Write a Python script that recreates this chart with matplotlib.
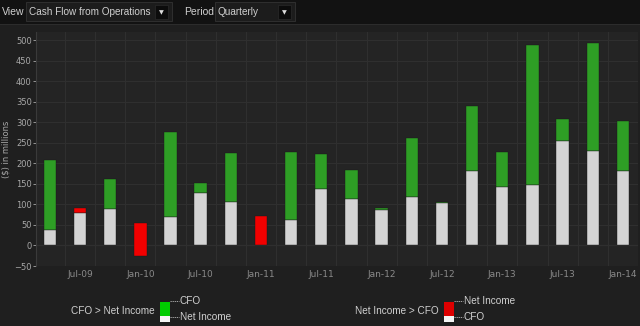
import matplotlib
matplotlib.use("Agg")
import matplotlib.pyplot as plt
from matplotlib.patches import Rectangle
from matplotlib.lines import Line2D

# quarterly values, $ millions
cfo = [209, 79, 163, -26, 277, 153, 226, 0, 228, 224,
       183, 92, 262, 107, 339, 228, 488, 309, 494, 303]
net_income = [37, 91, 90, 55, 69, 128, 107, 71, 63, 138,
              114, 87, 118, 103, 182, 143, 147, 255, 230, 182]
tick_labels = ["Jul-09", "Jan-10", "Jul-10", "Jan-11", "Jul-11",
               "Jan-12", "Jul-12", "Jan-13", "Jul-13", "Jan-14"]
tick_pos = [1, 3, 5, 7, 9, 11, 13, 15, 17, 19]

W, H = 640, 326
BG = "#1f1f1f"
PLOT_BG = "#242424"
GRID = "#2f2f2f"
TXT = "#a8a8a8"
GREEN = "#2e9e25"
RED = "#f20000"
WHITE = "#d4d4d4"

fig = plt.figure(figsize=(W / 100, H / 100), dpi=100)
fig.patch.set_facecolor(BG)


def fx(x):
    return x / W


def fy(y):
    return 1 - y / H


def rect(x, y, w, h, **kw):
    fig.add_artist(Rectangle((fx(x), fy(y + h)), w / W, h / H,
                             transform=fig.transFigure, **kw))


# header strip with the two dropdowns
rect(0, 0, W, 24, facecolor="#121212", edgecolor="none")
rect(0, 24, W, 1, facecolor="#2c2c2c", edgecolor="none")
fig.text(fx(2), fy(12), "View", color="#cfcfcf", fontsize=7.5,
         family="Liberation Sans", va="center")
rect(26, 2, 146, 19, facecolor="#1c1c1c", edgecolor="#333333", lw=0.6)
fig.text(fx(29), fy(12), "Cash Flow from Operations", color="#cfcfcf",
         fontsize=7.2, family="Liberation Sans", va="center")
rect(155, 5, 13, 14, facecolor="#0c0c0c", edgecolor="#2a2a2a", lw=0.5)
fig.text(fx(161.5), fy(13), "\u25BC", color="#dddddd", fontsize=4.5,
         ha="center", va="center")
fig.text(fx(184), fy(12), "Period", color="#cfcfcf", fontsize=7.5,
         family="Liberation Sans", va="center")
rect(215, 2, 80, 19, facecolor="#1c1c1c", edgecolor="#333333", lw=0.6)
fig.text(fx(218), fy(12), "Quarterly", color="#cfcfcf", fontsize=7.2,
         family="Liberation Sans", va="center")
rect(278, 5, 13, 14, facecolor="#0c0c0c", edgecolor="#2a2a2a", lw=0.5)
fig.text(fx(284.5), fy(13), "\u25BC", color="#dddddd", fontsize=4.5,
         ha="center", va="center")

# main plot area
ax = fig.add_axes([fx(36), fy(266), (638 - 36) / W, (266 - 32) / H])
ax.set_facecolor(PLOT_BG)

for i, (c, n) in enumerate(zip(cfo, net_income)):
    lo, hi = min(c, n), max(c, n)
    base = max(0, lo)
    ax.bar(i, hi - lo, bottom=lo, width=0.41,
           color=GREEN if c > n else RED, edgecolor="#1a1a1a",
           linewidth=0.3, zorder=3)
    if base > 0:
        ax.bar(i, base, width=0.41, color=WHITE, edgecolor="#1a1a1a",
               linewidth=0.3, zorder=4)

ax.set_xlim(-0.46, 19.5)
ax.set_ylim(-50, 520)
ax.set_yticks(range(-50, 501, 50))
ax.set_xticks(tick_pos)
ax.set_xticklabels(tick_labels)
ax.set_xticks([i + 0.5 for i in range(19)], minor=True)

ax.grid(True, axis="y", color=GRID, linewidth=0.8, zorder=0)
ax.grid(True, axis="x", which="minor", color=GRID, linewidth=0.8, zorder=0)
ax.axhline(0, color="#3a3a3a", linewidth=0.8, zorder=1)

ax.tick_params(axis="y", colors=TXT, labelsize=6, length=2, width=0.6,
               pad=1, labelcolor=TXT)
ax.tick_params(axis="x", which="both", length=0, labelsize=6.5, pad=3,
               labelcolor="#8a8a8a")
for s in ["top", "right", "bottom"]:
    ax.spines[s].set_visible(False)
ax.spines["left"].set_color("#3a3a3a")
ax.spines["left"].set_linewidth(0.8)
ax.set_ylabel("($) in millions", color=TXT, fontsize=6, labelpad=3)

# legend keys
def legend_key(x, label, color, top_label, bottom_label):
    fig.text(fx(x - 5), fy(311), label, color="#d0d0d0", fontsize=7.2,
             family="Liberation Sans", ha="right", va="center")
    rect(x, 302, 10, 14, facecolor=color, edgecolor="none")
    rect(x, 316, 10, 6, facecolor="#f4f4f4", edgecolor="none")
    for yy, txt in [(301, top_label), (317, bottom_label)]:
        fig.add_artist(Line2D([fx(x + 10), fx(x + 19)], [fy(yy), fy(yy)],
                              transform=fig.transFigure, color="#bbbbbb",
                              lw=0.6, ls=(0, (1.5, 1))))
        fig.text(fx(x + 20), fy(yy), txt, color="#d0d0d0", fontsize=7.2,
                 family="Liberation Sans", va="center")


legend_key(160, "CFO > Net Income", "#00cc00", "CFO", "Net Income")
legend_key(444, "Net Income > CFO", "#dd0000", "Net Income", "CFO")

fig.savefig("out.png", dpi=100, facecolor=BG)
